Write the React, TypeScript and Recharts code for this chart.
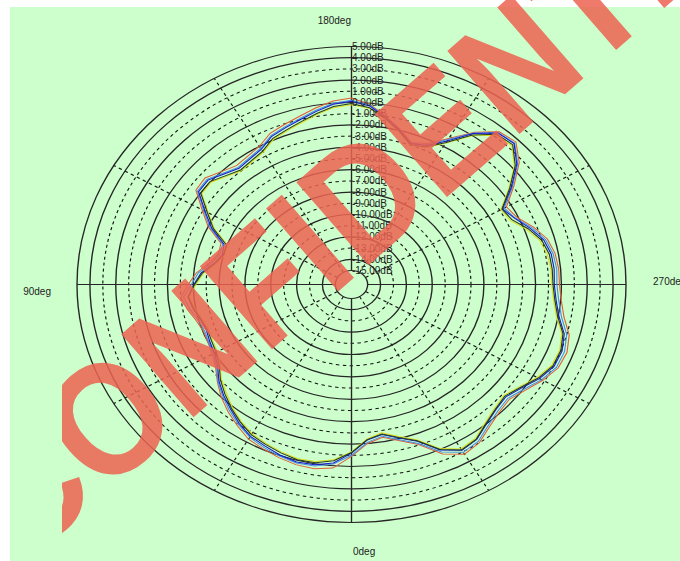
import React from 'react';
import { RadarChart, Radar, PolarGrid, PolarAngleAxis, PolarRadiusAxis } from 'recharts';

// ---- data ----
const angles = [0, 5, 10, 15, 20, 25, 30, 35, 40, 45, 50, 55, 60, 65, 70, 75, 80, 85, 90, 95, 100, 105, 110, 115, 120, 125, 130, 135, 140, 145, 150, 155, 160, 165, 170, 175, 180, 185, 190, 195, 200, 205, 210, 215, 220, 225, 230, 235, 240, 245, 250, 255, 260, 265, 270, 275, 280, 285, 290, 295, 300, 305, 310, 315, 320, 325, 330, 335, 340, 345, 350, 355];

const seriesRed = [-0.9, 0.2, 0.45, 0.4, 0.2, -0.05, -0.3, -0.85, -1.4, -2.0, -2.7, -3.4, -3.8, -4.0, -4.05, -3.8, -3.35, -3.0, -3.6, -4.2, -5.1, -5.6, -5.5, -4.0, -2.9, -1.55, -1.45, -2.0, -2.4, -2.25, -2.0, -1.35, -1.05, -0.7, -0.25, 0.2, 0.4, -0.1, -1.0, -1.85, -2.75, -2.35, -1.2, 0.35, 1.55, 1.75, 0.7, -0.9, -2.4, -2.1, -1.25, -0.55, -0.25, -0.15, -0.15, 0.05, 0.45, 1.2, 1.5, 1.4, 0.85, 0.2, -0.3, -0.1, 0.35, 1.0, 1.25, 0.45, -1.05, -1.8, -2.4, -2.0];
const seriesYellow = [-1.3, -0.55, -0.2, -0.15, -0.35, -0.6, -0.85, -1.35, -1.9, -2.55, -3.1, -3.85, -4.25, -4.4, -4.5, -4.3, -3.95, -3.65, -4.2, -4.75, -5.6, -6.1, -6.05, -4.55, -3.45, -2.1, -2.05, -2.6, -3.0, -2.85, -2.6, -1.95, -1.65, -1.3, -0.85, -0.4, -0.2, -0.45, -1.25, -2.1, -3.0, -2.75, -1.7, -0.05, 1.15, 1.3, 0.2, -1.4, -2.9, -2.7, -1.85, -1.15, -0.85, -0.75, -0.75, -0.55, -0.15, 0.6, 0.9, 0.85, 0.35, -0.35, -0.85, -0.6, -0.15, 0.5, 0.7, -0.1, -1.5, -2.2, -2.8, -2.4];
const seriesBlue = [-1.2, -0.25, 0.1, 0.15, -0.05, -0.35, -0.6, -1.1, -1.7, -2.25, -2.85, -3.6, -4.0, -4.15, -4.3, -4.15, -3.8, -3.55, -4.05, -4.55, -5.45, -5.9, -5.75, -4.3, -3.15, -1.8, -1.75, -2.3, -2.7, -2.55, -2.3, -1.65, -1.35, -1.0, -0.55, -0.1, 0.1, -0.25, -1.1, -1.95, -2.85, -2.55, -1.45, 0.2, 1.4, 1.55, 0.45, -1.15, -2.75, -2.3, -1.55, -0.85, -0.55, -0.5, -0.55, -0.35, 0.05, 0.8, 1.1, 1.05, 0.55, -0.15, -0.65, -0.45, 0.0, 0.65, 0.85, 0.05, -1.35, -2.05, -2.65, -2.3];
const seriesLightBlue = [-1.0, -0.15, 0.2, 0.25, 0.05, -0.2, -0.5, -1.0, -1.55, -2.15, -2.75, -3.5, -3.9, -4.05, -4.15, -3.95, -3.55, -3.2, -3.85, -4.35, -5.25, -5.7, -5.65, -4.15, -3.05, -1.7, -1.65, -2.2, -2.6, -2.45, -2.2, -1.55, -1.25, -0.9, -0.45, 0.0, 0.2, -0.15, -1.05, -1.9, -2.8, -2.45, -1.3, 0.25, 1.45, 1.6, 0.55, -1.05, -2.6, -2.25, -1.4, -0.7, -0.4, -0.3, -0.35, -0.15, 0.25, 1.0, 1.3, 1.25, 0.75, 0.05, -0.45, -0.25, 0.2, 0.85, 1.05, 0.25, -1.15, -1.9, -2.5, -2.1];
const seriesDark = [-1.25, -0.45, -0.1, -0.05, -0.25, -0.5, -0.75, -1.25, -1.8, -2.4, -3.0, -3.75, -4.15, -4.3, -4.4, -4.2, -3.85, -3.55, -4.1, -4.65, -5.5, -6.0, -5.95, -4.45, -3.35, -2.0, -1.95, -2.5, -2.9, -2.75, -2.5, -1.85, -1.55, -1.2, -0.75, -0.3, -0.1, -0.4, -1.2, -2.05, -2.95, -2.7, -1.6, 0.05, 1.25, 1.4, 0.3, -1.3, -2.8, -2.55, -1.7, -1.0, -0.7, -0.65, -0.65, -0.45, -0.05, 0.7, 1.0, 0.95, 0.45, -0.25, -0.75, -0.5, -0.05, 0.6, 0.8, 0.0, -1.4, -2.1, -2.7, -2.35];

const dbTicks = [5, 4, 3, 2, 1, 0, -1, -2, -3, -4, -5, -6, -7, -8, -9, -10, -11, -12, -13, -14, -15];
const solidRingTicks = [5, 4, 2, 0, -2, -4, -6, -8, -10, -12, -14, -15];
const dashedRingTicks = [3, 1, -1, -3, -5, -7, -9, -11, -13];
const labelAngles = [0, 90, 180, 270];
const angleLabels = ['0deg', '90deg', '180deg', '270deg'];
const watermark = 'CONFIDENTIAL';

const data = angles.map((a, i) => ({
  angle: a,
  red: seriesRed[i],
  yellow: seriesYellow[i],
  blue: seriesBlue[i],
  lightBlue: seriesLightBlue[i],
  dark: seriesDark[i],
}));

// ---- styling / layout ----
const SX = 274.5 / 238;
const CX = 351.5;
const CY = 284.5;
const FONT = '"Liberation Sans", Arial, sans-serif';
const angleLabelStyle: Record<number, { anchor: string; dx: number; dy: number }> = {
  0: { anchor: 'start', dx: 1.5, dy: 24.5 },
  90: { anchor: 'end', dx: -16.8, dy: 10.5 },
  180: { anchor: 'end', dx: -0.5, dy: -14.5 },
  270: { anchor: 'start', dx: 17.8, dy: 0.5 },
};

const AngleTick = (props: any) => {
  const { x, y, payload } = props;
  const idx = labelAngles.indexOf(payload.value);
  if (idx < 0) return <g />;
  const st = angleLabelStyle[labelAngles[idx]];
  return (
    <g transform={`translate(${x},${y}) scale(${1 / SX},1)`}>
      <text x={st.dx} y={st.dy} textAnchor={st.anchor as any} fontSize={10} fontFamily={FONT} fill="#222">
        {angleLabels[idx]}
      </text>
    </g>
  );
};

const RadiusTick = (props: any) => {
  const { x, y, payload } = props;
  return (
    <g transform={`translate(${x},${y}) scale(${1 / SX},1)`}>
      <text x={0.5} y={3.5} textAnchor="start" fontSize={10} fontFamily={FONT} fill="#222">
        {`${Number(payload.value).toFixed(2)}dB`}
      </text>
    </g>
  );
};

const seriesDefs = [
  { key: 'red', color: '#e0603a' },
  { key: 'yellow', color: '#dede1a' },
  { key: 'lightBlue', color: '#4b8fe0' },
  { key: 'blue', color: '#1a1ad0' },
  { key: 'dark', color: '#1f3d1f' },
];

export default function App() {
  return (
    <div style={{ position: 'absolute', left: 0, top: 0, width: 680, height: 561, overflow: 'hidden', background: '#ffffff' }}>
      <div style={{ position: 'absolute', left: 10, top: 7, width: 670, height: 554, background: '#ccffcc' }} />
      <div
        style={{
          position: 'absolute',
          left: 0,
          top: 0,
          width: 680,
          height: 561,
          transform: `scaleX(${SX})`,
          transformOrigin: `${CX}px 0px`,
        }}
      >
        <RadarChart
          width={680}
          height={561}
          data={data}
          cx={CX}
          cy={CY}
          innerRadius={14}
          outerRadius={238}
          startAngle={-90}
          endAngle={-450}
          margin={{ top: 0, right: 0, bottom: 0, left: 0 }}
        >
          <PolarAngleAxis dataKey="angle" type="category" tick={AngleTick} tickLine={false} axisLine={false} />
          <PolarRadiusAxis radiusAxisId="lbl" angle={90} type="number" domain={[-15, 5]} ticks={dbTicks as any} tickCount={21} allowDataOverflow tick={RadiusTick} axisLine={false} tickLine={false} />
          <PolarRadiusAxis radiusAxisId="s" angle={90} type="number" domain={[-15, 5]} ticks={solidRingTicks as any} allowDataOverflow tick={false} axisLine={false} tickLine={false} />
          <PolarRadiusAxis radiusAxisId="d" angle={90} type="number" domain={[-15, 5]} ticks={dashedRingTicks as any} allowDataOverflow tick={false} axisLine={false} tickLine={false} />
          <PolarGrid radiusAxisId="d" gridType="circle" polarAngles={[30, 60, 120, 150, 210, 240, 300, 330]} stroke="#111" strokeDasharray="3 3" />
          <PolarGrid radiusAxisId="s" gridType="circle" polarAngles={[0, 90, 180, 270]} stroke="#262626" strokeWidth={1.2} />
          {seriesDefs.map((s) => (
            <Radar
              key={s.key}
              radiusAxisId="lbl"
              dataKey={s.key}
              stroke={s.color}
              strokeWidth={1}
              fill="none"
              fillOpacity={0}
              dot={false}
              isAnimationActive={false}
            />
          ))}
        </RadarChart>
      </div>
      <svg width={680} height={561} style={{ position: 'absolute', left: 0, top: 0, pointerEvents: 'none' }}>
        <defs>
          <clipPath id="wmclip">
            <rect x={62} y={0} width={618} height={561} />
          </clipPath>
        </defs>
        <g clipPath="url(#wmclip)">
          <text
            x={0}
            y={0}
            transform="translate(23.2,565.3) rotate(-41) scale(0.9,1)"
            fontFamily={FONT}
            fontWeight="bold"
            fontSize={160}
            fill="#ED6352"
            opacity={0.85}
          >
            {watermark}
          </text>
        </g>
      </svg>
    </div>
  );
}
